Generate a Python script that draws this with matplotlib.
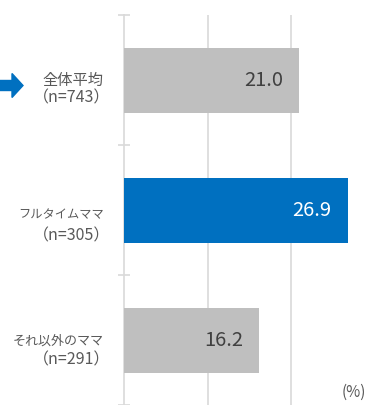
import matplotlib
matplotlib.use("Agg")
import matplotlib.pyplot as plt
from matplotlib.patches import FancyArrow

plt.rcParams['font.family'] = ['Noto Sans CJK JP', 'DejaVu Sans']

#--- data ---
groups = ["全体平均", "フルタイムママ", "それ以外のママ"]
counts = [743, 305, 291]
values = [21.0, 26.9, 16.2]
bar_colors = ["#bfbfbf", "#0070c0", "#bfbfbf"]
text_colors = ["#404040", "#ffffff", "#404040"]

# label layout: font size of the name line, downward nudges (px) of both lines
name_size = [11, 8.8, 9.4]
name_shift = [0, 5, 1]
count_shift = [18, 26, 20]

W, H = 368, 405
fig = plt.figure(figsize=(W / 100, H / 100), dpi=100)

x0 = 124.5          # left of axis in px
scale = 8.3         # px per %
xmax = 30
ax = fig.add_axes([x0 / W, 0, xmax * scale / W, (H - 15) / H])

ypos = list(range(len(values)))
ax.barh(ypos, values, height=0.5, color=bar_colors, zorder=3)
ax.set_xlim(0, xmax)
ax.set_ylim(2.5, -0.5)

# grid
ax.set_xticks([10, 20, 30])
ax.xaxis.grid(True, color="#d9d9d9", linewidth=1.2, zorder=0)
ax.tick_params(axis="x", bottom=False, labelbottom=False)
ax.set_yticks([-0.5, 0.5, 1.5, 2.5])
ax.set_yticklabels([])
ax.tick_params(axis="y", direction="inout", length=9, width=1.2, color="#d9d9d9")

for s in ["top", "right", "bottom"]:
    ax.spines[s].set_visible(False)
ax.spines["left"].set_color("#d9d9d9")
ax.spines["left"].set_linewidth(1.2)
ax.set_facecolor("none")

# value labels inside bars
for i, v in enumerate(values):
    ax.annotate(f"{v:.1f}", xy=(v, i), xytext=(-16, 0), textcoords="offset pixels",
                ha="right", va="center", fontsize=14.5, color=text_colors[i], zorder=4)

# category labels: name line + sample size line
for i, (g, n) in enumerate(zip(groups, counts)):
    ax.annotate(g, xy=(0, i), xycoords=("axes fraction", "data"),
                xytext=(-21, -name_shift[i]), textcoords="offset pixels",
                ha="right", va="center", fontsize=name_size[i], color="#595959")
    ax.annotate(f"（n={n}）", xy=(0, i), xycoords=("axes fraction", "data"),
                xytext=(-14, -count_shift[i]), textcoords="offset pixels",
                ha="right", va="center", fontsize=11.5, color="#595959")

# unit
fig.text(1 - 2 / W, 1 - 392 / H, "(%)", ha="right", va="center", fontsize=11, color="#595959")

# arrow pointing at the average row
arr = FancyArrow(-4 / W, 1 - 85.5 / H, 16 / W, 0, width=10 / H, head_width=24 / H,
                 head_length=11 / W, length_includes_head=False,
                 color="#0070c0", transform=fig.transFigure)
fig.patches.append(arr)

fig.savefig("out.png", dpi=100)
